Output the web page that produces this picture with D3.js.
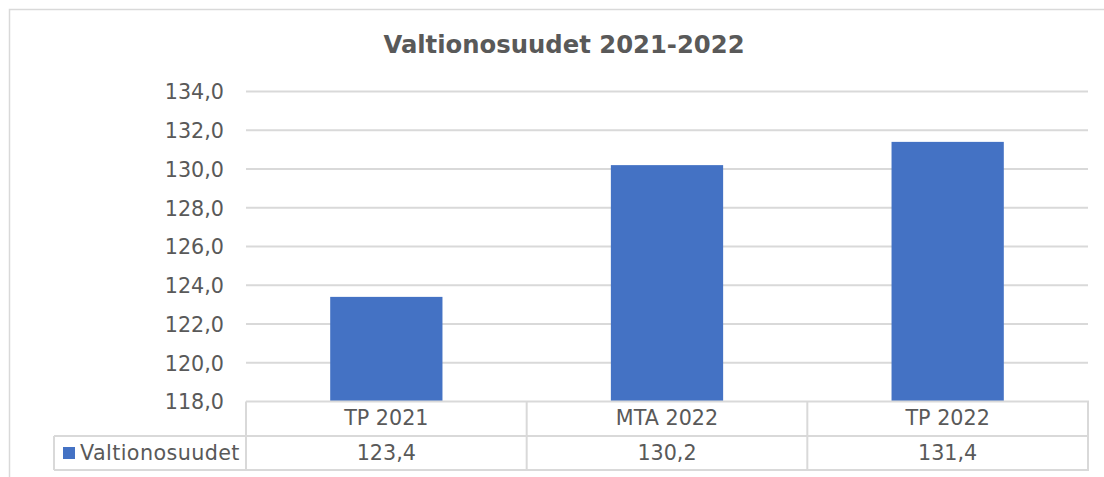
<!DOCTYPE html>
<html>
<head>
<meta charset="utf-8">
<script src="https://cdn.jsdelivr.net/npm/d3@7"></script>
<style>
  html, body { margin: 0; padding: 0; background: #fff; }
  svg { display: block; }
  text { font-family: "DejaVu Sans", Verdana, sans-serif; fill: #595959; }
</style>
</head>
<body>
<svg id="chart" width="1104" height="477"></svg>
<script>
const title = "Valtionosuudet 2021-2022";
const categories = ["TP 2021", "MTA 2022", "TP 2022"];
const seriesName = "Valtionosuudet";
const values = [123.4, 130.2, 131.4];
const yTicks = [118, 120, 122, 124, 126, 128, 130, 132, 134];

const svg = d3.select("#chart");
const gridColor = "#d9d9d9";
const barColor = "#4472C4";

const plotLeft = 246, plotRight = 1088, plotTop = 91.5, plotBottom = 401.5;
const row1Bottom = 436, row2Bottom = 470, legendLeft = 54;

const x = d3.scaleBand().domain(categories).range([plotLeft, plotRight]).padding(0);
const y = d3.scaleLinear().domain([118, 134]).range([plotBottom, plotTop]);
const fmt = v => d3.format(".1f")(v).replace(".", ",");

// outer frame
svg.append("path")
  .attr("d", `M9.5,477 L9.5,9.5 L1104,9.5`)
  .attr("fill", "none").attr("stroke", gridColor).attr("stroke-width", 1.5);

// title
svg.append("text")
  .attr("x", 564).attr("y", 53)
  .attr("text-anchor", "middle")
  .style("font-size", "24.3px").style("font-weight", "bold")
  .text(title);

// gridlines
svg.append("g").selectAll("line").data(yTicks.filter(t => t !== 118)).join("line")
  .attr("x1", plotLeft).attr("x2", plotRight)
  .attr("y1", d => y(d)).attr("y2", d => y(d))
  .attr("stroke", gridColor).attr("stroke-width", 2);

// y axis labels
const yAxis = d3.axisLeft(y).tickValues(yTicks).tickFormat(fmt).tickSize(0).tickPadding(0);
const gy = svg.append("g").attr("transform", `translate(224,0)`).call(yAxis);
gy.select(".domain").remove();
gy.selectAll("text")
  .attr("fill", "#595959")
  .style("font-family", '"DejaVu Sans", Verdana, sans-serif')
  .style("font-size", "20.7px")
  .attr("dy", "0.36em");

// bars
svg.append("g").selectAll("rect").data(categories).join("rect")
  .attr("x", d => x(d) + x.bandwidth() * 0.3)
  .attr("width", x.bandwidth() * 0.4)
  .attr("y", (d, i) => y(values[i]))
  .attr("height", (d, i) => y(118) - y(values[i]))
  .attr("fill", barColor);

// data table lines
const tg = svg.append("g").attr("stroke", gridColor).attr("stroke-width", 2).attr("fill", "none");
tg.append("line").attr("x1", plotLeft).attr("x2", plotRight + 1).attr("y1", plotBottom).attr("y2", plotBottom);
tg.append("line").attr("x1", legendLeft).attr("x2", plotRight + 1).attr("y1", row1Bottom).attr("y2", row1Bottom);
tg.append("line").attr("x1", legendLeft).attr("x2", plotRight + 1).attr("y1", row2Bottom).attr("y2", row2Bottom);
tg.append("line").attr("x1", legendLeft).attr("x2", legendLeft).attr("y1", row1Bottom).attr("y2", row2Bottom);
const colEdges = categories.map(c => x(c)).concat([x(categories[categories.length - 1]) + x.bandwidth()]);
tg.selectAll(".v").data(colEdges).join("line").attr("class", "v")
  .attr("x1", d => d).attr("x2", d => d)
  .attr("y1", plotBottom).attr("y2", row2Bottom);

// category labels
svg.append("g").selectAll("text").data(categories).join("text")
  .attr("x", d => x(d) + x.bandwidth() / 2).attr("y", 425)
  .attr("text-anchor", "middle").style("font-size", "20.7px")
  .text(d => d);

// values row
svg.append("g").selectAll("text").data(categories).join("text")
  .attr("x", d => x(d) + x.bandwidth() / 2).attr("y", 460)
  .attr("text-anchor", "middle").style("font-size", "20.7px")
  .text((d, i) => fmt(values[i]));

// legend key
svg.append("rect").attr("x", 63).attr("y", 447).attr("width", 12).attr("height", 12).attr("fill", barColor);
svg.append("text").attr("x", 80).attr("y", 460).style("font-size", "20.7px")
  .style("letter-spacing", "0.4px").text(seriesName);
</script>
</body>
</html>
